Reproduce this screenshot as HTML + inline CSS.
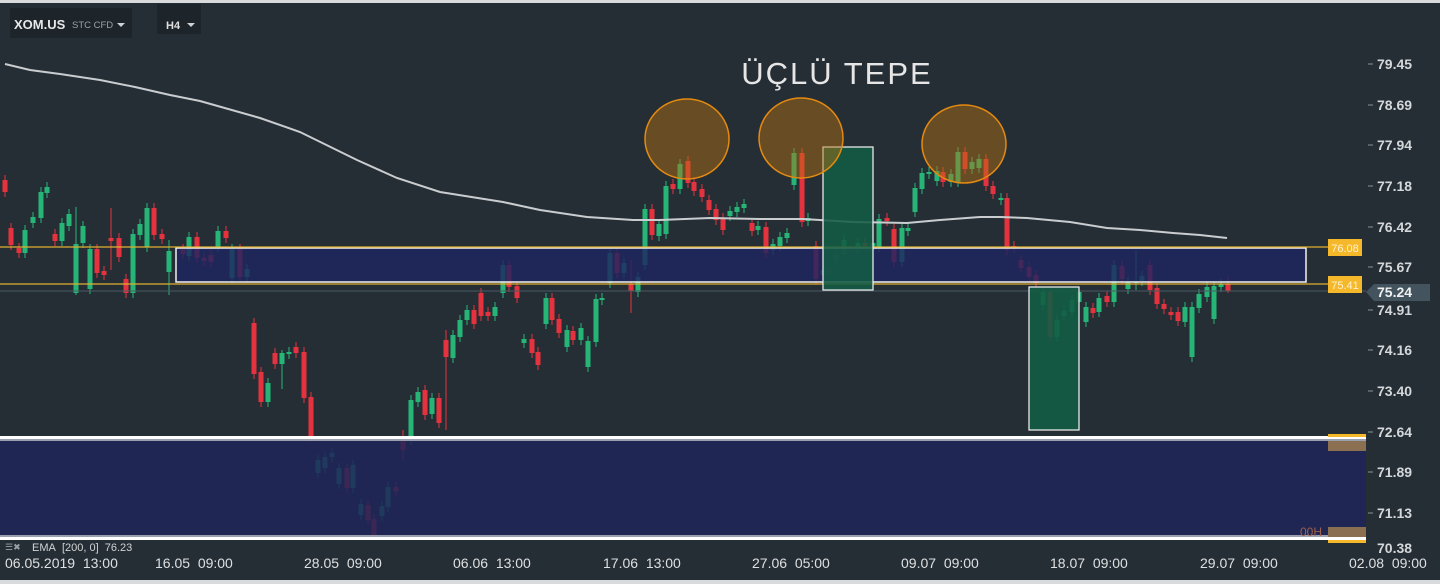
<!DOCTYPE html>
<html><head><meta charset="utf-8"><style>
html,body{margin:0;padding:0;background:#262e35;}
svg{display:block;font-family:"Liberation Sans",sans-serif;}
</style></head><body>
<svg id="s" width="1440" height="584" viewBox="0 0 1440 584" xmlns="http://www.w3.org/2000/svg">
<rect x="0" y="0" width="1440" height="584" fill="#262e35"/>
<rect x="0" y="0" width="1440" height="3" fill="#d8dadc"/>
<rect x="0" y="580" width="1440" height="4" fill="#d8dadc"/>
<g id="candles"></g>
<polyline fill="none" stroke="#c9cdd0" stroke-width="2" points="5,64 30,70 60,74 100,80 135,87 170,95 200,101 260,118 300,132 357,160 397,178 440,192 503,202 540,210 587,217 633,220 660,220 710,218 760,219 803,219 853,222 907,223 940,220 980,217 1000,217 1027,218 1070,222 1107,228 1140,230 1173,233 1200,235 1227,238"/>
<line x1="0" y1="291" x2="1366" y2="291" stroke="#4a5a63" stroke-width="1"/>
<rect x="176" y="248" width="1130" height="34" fill="#1f2460" fill-opacity="0.82" stroke="#f0f0f0" stroke-width="1.5"/>
<line x1="0" y1="247" x2="1328" y2="247" stroke="#e0b030" stroke-width="1.2"/>
<line x1="0" y1="284" x2="1328" y2="284" stroke="#e0b030" stroke-width="1.2"/>
<rect x="1328" y="239" width="34" height="17" fill="#f5b82a"/>
<text x="1345" y="252" font-size="11" fill="#fff3d0" text-anchor="middle">76.08</text>
<rect x="1328" y="276" width="34" height="17" fill="#f5b82a"/>
<text x="1345" y="289" font-size="11" fill="#fff3d0" text-anchor="middle">75.41</text>
<rect x="0" y="440" width="1366" height="96" fill="#1f2458" fill-opacity="0.85"/>
<rect x="0" y="436" width="1366" height="3" fill="#ffffff"/>
<rect x="0" y="439" width="1366" height="2" fill="#9aa0b0"/>
<rect x="0" y="535" width="1366" height="2" fill="#9aa0b0"/>
<rect x="0" y="537" width="1366" height="3" fill="#ffffff"/>
<rect x="1328" y="434" width="38" height="3" fill="#f5b82a"/>
<rect x="1328" y="441" width="38" height="10" fill="#8a7050"/>
<rect x="1328" y="527" width="38" height="10" fill="#8a7050"/>
<rect x="1328" y="540" width="38" height="3" fill="#f5b82a"/>
<text x="1300" y="536" font-size="12" fill="#a0604a">00H</text>
<rect x="823" y="147" width="50" height="143" fill="#135c44" fill-opacity="0.88" stroke="#e8e8e8" stroke-width="1.3"/>
<rect x="1029" y="287" width="50" height="143" fill="#135c44" fill-opacity="0.9" stroke="#e8e8e8" stroke-width="1.3"/>
<ellipse cx="687" cy="139" rx="42" ry="40" fill="#b8700f" fill-opacity="0.45" stroke="#e58a10" stroke-width="1.5"/>
<ellipse cx="801" cy="138" rx="42" ry="40" fill="#b8700f" fill-opacity="0.45" stroke="#e58a10" stroke-width="1.5"/>
<ellipse cx="964" cy="144" rx="42" ry="39" fill="#b8700f" fill-opacity="0.45" stroke="#e58a10" stroke-width="1.5"/>
<text x="837" y="84" font-size="31" fill="#e6e6e6" text-anchor="middle" letter-spacing="2">ÜÇLÜ TEPE</text>
<rect x="10" y="8" width="122" height="30" fill="#1d242a"/>
<text x="14" y="29" font-size="13" font-weight="bold" fill="#e8e8e8">XOM.US</text>
<text x="72" y="28" font-size="9.5" fill="#9aa2a8">STC CFD</text>
<polygon points="117,23 125,23 121,27" fill="#cfd3d6"/>
<rect x="157" y="4" width="44" height="30" fill="#1d242a"/>
<text x="166" y="29" font-size="11" font-weight="bold" fill="#e0e0e0">H4</text>
<polygon points="187,23 195,23 191,27" fill="#cfd3d6"/>
<g font-size="14" font-weight="bold" fill="#d4d8da">
<text x="1377" y="69">79.45</text><text x="1377" y="110">78.69</text><text x="1377" y="150">77.94</text>
<text x="1377" y="191">77.18</text><text x="1377" y="232">76.42</text><text x="1377" y="272">75.67</text>
<text x="1377" y="315">74.91</text><text x="1377" y="355">74.16</text><text x="1377" y="396">73.40</text>
<text x="1377" y="437">72.64</text><text x="1377" y="477">71.89</text><text x="1377" y="518">71.13</text>
<text x="1377" y="553">70.38</text>
</g>
<polygon points="1366,292 1374,284 1430,284 1430,301 1374,301" fill="#44545e"/>
<text x="1377" y="297" font-size="14" font-weight="bold" fill="#f0f0f0">75.24</text>
<g stroke="#8a9298" stroke-width="1">
<line x1="1368" y1="64" x2="1373" y2="64"/><line x1="1368" y1="105" x2="1373" y2="105"/><line x1="1368" y1="145" x2="1373" y2="145"/><line x1="1368" y1="186" x2="1373" y2="186"/><line x1="1368" y1="227" x2="1373" y2="227"/><line x1="1368" y1="267" x2="1373" y2="267"/><line x1="1368" y1="310" x2="1373" y2="310"/><line x1="1368" y1="350" x2="1373" y2="350"/><line x1="1368" y1="391" x2="1373" y2="391"/><line x1="1368" y1="432" x2="1373" y2="432"/><line x1="1368" y1="472" x2="1373" y2="472"/><line x1="1368" y1="513" x2="1373" y2="513"/>
</g>
<text x="5" y="550" font-size="9" fill="#9aa2a8">☰✖</text>
<text x="32" y="551" font-size="11" fill="#d0d4d6">EMA&#160; [200, 0]&#160; 76.23</text>
<g font-size="14" fill="#dde0e2">
<text x="5" y="568">06.05.2019&#160; 13:00</text>
<text x="155" y="568">16.05&#160; 09:00</text>
<text x="304" y="568">28.05&#160; 09:00</text>
<text x="453" y="568">06.06&#160; 13:00</text>
<text x="603" y="568">17.06&#160; 13:00</text>
<text x="752" y="568">27.06&#160; 05:00</text>
<text x="901" y="568">09.07&#160; 09:00</text>
<text x="1050" y="568">18.07&#160; 09:00</text>
<text x="1200" y="568">29.07&#160; 09:00</text>
<text x="1349" y="568">02.08&#160; 09:00</text>
</g>
</svg>
<script>
var d=[[5,180,192,'r'],[11,228,245,'r'],[19,248,253,'r'],[25,230,253,'g'],[33,217,223,'g'],[41,192,218,'g'],[47,187,193,'g'],[55,234,241,'r'],[62,223,241,'g'],[69,214,226,'g'],[76,244,293,'g',207,295],[83,226,243,'g'],[90,249,289,'g'],[97,249,273,'r'],[104,271,275,'r'],[111,238,241,'r',208,270],[119,238,257,'r'],[126,279,293,'r'],[133,234,293,'g'],[140,224,235,'g'],[147,208,247,'g'],[154,208,235,'r'],[162,234,239,'r'],[169,251,272,'g',240,295],[183,249,254,'r'],[189,237,256,'g'],[197,237,258,'r'],[204,258,261,'r'],[211,255,262,'r'],[218,231,247,'g'],[226,231,238,'r'],[232,249,278,'g'],[240,249,277,'r'],[247,269,277,'g'],[254,323,374,'r'],[261,372,402,'r'],[268,383,402,'g'],[275,353,364,'r'],[282,353,364,'g',350,389],[289,352,354,'g'],[296,347,353,'r'],[304,352,398,'r'],[311,397,437,'r'],[318,460,473,'g'],[325,457,468,'g'],[332,453,457,'g'],[339,468,484,'g'],[347,468,488,'r'],[353,465,488,'g'],[361,504,515,'g'],[368,505,520,'r'],[374,519,535,'r'],[382,506,516,'g'],[388,487,507,'g'],[396,487,491,'r'],[403,440,450,'r',430,460],[411,400,440,'g'],[418,392,402,'g'],[425,390,415,'r'],[432,398,414,'g'],[439,398,423,'r'],[446,340,357,'r',330,430],[453,335,358,'g'],[460,320,337,'g'],[467,310,320,'g'],[474,310,324,'r'],[481,293,316,'r'],[488,312,316,'r'],[495,307,316,'g'],[503,265,293,'g'],[509,265,287,'r'],[517,286,298,'r'],[524,339,343,'g'],[532,339,353,'r'],[538,352,365,'r'],[546,298,324,'g'],[552,298,320,'r'],[559,319,333,'r'],[567,330,347,'g'],[573,331,340,'r'],[581,328,340,'g'],[588,341,367,'g'],[596,299,342,'g'],[602,298,300,'g'],[610,253,283,'g'],[617,253,273,'r'],[624,263,273,'g'],[631,284,291,'r',260,313],[638,277,292,'g'],[645,209,265,'g'],[652,209,235,'r'],[659,224,236,'g'],[666,186,234,'g'],[673,184,189,'r'],[680,164,189,'g'],[688,161,183,'r'],[694,182,191,'r'],[702,189,197,'r'],[709,200,210,'r'],[716,209,220,'r'],[723,218,230,'r'],[730,211,216,'g'],[737,207,212,'g'],[744,204,208,'g'],[752,223,231,'r'],[758,226,230,'g'],[766,227,253,'r'],[773,244,250,'g'],[780,237,246,'g'],[787,233,238,'g'],[794,153,185,'g'],[802,153,222,'r'],[808,218,221,'g'],[816,246,279,'r'],[823,270,275,'g'],[829,268,273,'r'],[836,254,262,'g'],[844,240,255,'g'],[851,250,252,'r'],[858,243,253,'g'],[865,243,246,'r'],[873,243,250,'g'],[879,219,247,'g'],[887,218,221,'r'],[894,229,262,'r'],[902,228,262,'g'],[908,228,231,'g'],[915,188,212,'g'],[922,173,189,'g'],[929,172,174,'g'],[937,171,181,'g'],[943,172,182,'r'],[951,174,182,'g'],[958,152,182,'g'],[965,152,169,'r'],[972,162,169,'g'],[979,159,168,'g'],[986,159,186,'r'],[993,186,194,'r'],[1001,198,200,'g'],[1007,198,250,'r'],[1014,246,248,'r'],[1021,260,268,'r'],[1029,267,277,'r'],[1036,275,283,'r'],[1043,292,305,'g'],[1050,292,337,'r'],[1057,320,337,'g'],[1064,311,316,'g'],[1072,300,312,'g'],[1079,292,302,'g'],[1086,307,322,'g'],[1093,308,313,'r'],[1099,298,312,'g'],[1107,296,302,'r'],[1114,265,302,'g'],[1122,266,279,'r'],[1128,282,289,'g'],[1136,281,283,'g',250,290],[1142,276,281,'g'],[1150,265,290,'r'],[1157,288,304,'r'],[1164,304,309,'r'],[1171,312,315,'r'],[1178,312,321,'r'],[1185,307,322,'g'],[1192,307,357,'g'],[1199,294,308,'g'],[1207,287,297,'g'],[1214,286,319,'g'],[1221,284,287,'g'],[1228,284,291,'r',277,293]];
var g=document.getElementById('candles'),h='';
d.forEach(function(c){var col=c[3]=='g'?'#27b577':'#e5323f';var wt=c.length>4?c[4]:c[1]-5,wb=c.length>5?c[5]:c[2]+5;
h+='<line x1="'+c[0]+'" y1="'+wt+'" x2="'+c[0]+'" y2="'+wb+'" stroke="'+col+'" stroke-width="1"/>';
h+='<rect x="'+(c[0]-2.5)+'" y="'+c[1]+'" width="5" height="'+Math.max(2,c[2]-c[1])+'" fill="'+col+'"/>';});
g.innerHTML=h;
</script>
</body></html>
